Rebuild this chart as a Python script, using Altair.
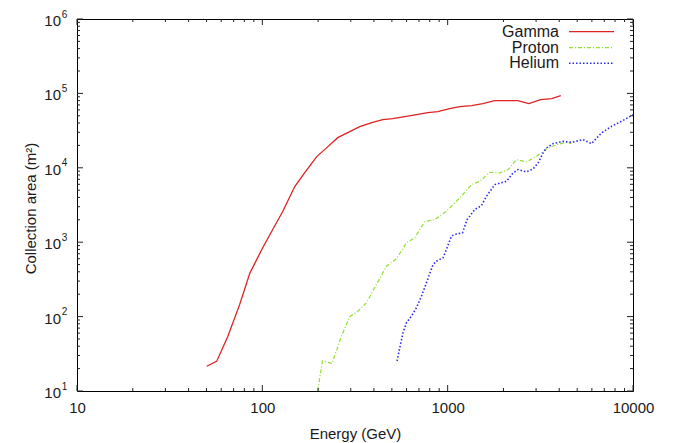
import altair as alt
import pandas as pd

# ---------------- data ----------------
gamma_E = [50.1, 56.7, 65.1, 75.5, 85.5, 99.3, 113.8, 128.8, 149.6, 169.4, 196.6,
           222.7, 255.3, 296.3, 335.5, 389.4, 446.4, 505.4, 586.8, 681, 781, 884,
           1026, 1163, 1349, 1547, 1796, 2084, 2389, 2740, 3180, 3646, 4077]
gamma_A = [21.5, 25.0, 54.2, 146, 380, 798, 1480, 2583, 5595, 8620, 14130,
           18670, 25420, 30620, 35730, 40430, 44360, 45730, 48660, 51760, 55080, 56770,
           62330, 66300, 68390, 72770, 79820, 79820, 79820, 72770, 82250, 84830, 93100]

proton_E = [199, 211, 237.8, 267.3, 296.3, 328.6, 364.6, 412.8, 467.6, 529.3, 599.3,
            664.4, 752.2, 851.8, 985, 1163, 1344, 1490, 1687, 1911, 2118, 2351,
            2663, 3015, 3414, 3866, 4376, 4657]
proton_A = [10, 25.3, 23.5, 54.7, 99.7, 118.5, 153.7, 270.5, 476, 598.5, 982,
            1146, 1897, 2017, 2608, 3945, 5950, 6590, 8700, 8540, 9460, 12880,
            12000, 14270, 17940, 20470, 21990, 21130]

helium_E = [533.3, 551.5, 574.6, 599.3, 637.7, 678.6, 722.2, 768.4, 834, 870.1, 944.5,
            985, 1048, 1092, 1202, 1273, 1316, 1401, 1522, 1620, 1796, 2077, 2254,
            2399, 2663, 2891, 3076, 3272, 3414, 3706, 4196, 4657, 5379, 5970, 6761,
            7656, 8845, 10000]
helium_A = [25.3, 38.2, 60.8, 82.8, 101.6, 131.7, 188.4, 285, 502, 556, 617.5,
            798, 1204, 1269, 1337, 2017, 2234, 2748, 3109, 4144, 5950, 6590, 8540,
            9460, 8810, 9670, 11640, 15850, 18490, 21130, 22690, 21990, 23900, 21130, 29410,
            36060, 43420, 51760]

series_names = ["Gamma", "Proton", "Helium"]
series_colors = ["#dd2222", "#8fe030", "#2a2aee"]

x_major = [10, 100, 1000, 10000]
x_minor = [m * d for d in [10, 100, 1000] for m in range(2, 10)]
y_major = [10, 100, 1000, 10000, 100000, 1000000]
y_exponent = ["1", "2", "3", "4", "5", "6"]
y_minor = [m * d for d in [10, 100, 1000, 10000, 100000] for m in range(2, 10)]

# ---------------- layout ----------------
W, H = 556, 372
FONT = "Liberation Sans"
TXT = "#1a1a1a"
MAJ, MIN = 6, 3

xscale = alt.Scale(type="log", domain=[10, 10000], nice=False)
yscale = alt.Scale(type="log", domain=[10, 1000000], nice=False)

xaxis = alt.Axis(values=x_major, format="d", ticks=False, tickSize=0, domain=False,
                 grid=False, labelFontSize=15, labelFont=FONT, labelColor=TXT,
                 labelPadding=21, labelFlush=False, labelOverlap=False,
                 labelBaseline="alphabetic",
                 title="Energy (GeV)", titleFont=FONT, titleFontSize=15,
                 titleFontWeight="normal", titleColor=TXT, titleY=47,
                 titleBaseline="alphabetic")
yaxis = alt.Axis(labels=False, ticks=False, tickSize=0, domain=False, grid=False,
                 title="Collection area (m²)", titleFont=FONT, titleFontSize=15,
                 titleFontWeight="normal", titleColor=TXT, titleAngle=270,
                 titleX=-42, titleY=189, titleAlign="center",
                 titleBaseline="alphabetic")


def X():
    return alt.X("E:Q", scale=xscale, axis=xaxis)


def Y():
    return alt.Y("A:Q", scale=yscale, axis=yaxis)


layers = []

# curves
dash = {"Gamma": None, "Proton": [4, 2, 1, 2], "Helium": [1.5, 2]}
widths = {"Gamma": 1.3, "Proton": 1.2, "Helium": 1.6}
for name, color, E, A in zip(series_names, series_colors,
                             [gamma_E, proton_E, helium_E],
                             [gamma_A, proton_A, helium_A]):
    df = pd.DataFrame({"E": E, "A": A})
    kw = dict(color=color, strokeWidth=widths[name], clip=True)
    if dash[name]:
        kw["strokeDash"] = dash[name]
    layers.append(alt.Chart(df).mark_line(**kw).encode(x=X(), y=Y()))

# inward ticks on all four sides
for vals, ln in [(x_major, MAJ), (x_minor, MIN)]:
    df = pd.DataFrame({"E": vals})
    layers.append(alt.Chart(df).mark_rule(color="#222", strokeWidth=1).encode(
        x=X(), y=alt.value(H), y2=alt.value(H - ln)))
    layers.append(alt.Chart(df).mark_rule(color="#222", strokeWidth=1).encode(
        x=X(), y=alt.value(0), y2=alt.value(ln)))
for vals, ln in [(y_major, MAJ), (y_minor, MIN)]:
    df = pd.DataFrame({"A": vals})
    layers.append(alt.Chart(df).mark_rule(color="#222", strokeWidth=1).encode(
        y=Y(), x=alt.value(0), x2=alt.value(ln)))
    layers.append(alt.Chart(df).mark_rule(color="#222", strokeWidth=1).encode(
        y=Y(), x=alt.value(W), x2=alt.value(W - ln)))

# y tick labels: 10 with superscript exponent
ylab = pd.DataFrame({"A": y_major, "base": ["10"] * len(y_major), "exp": y_exponent})
layers.append(alt.Chart(ylab).mark_text(align="right", baseline="middle", fontSize=15,
                                        font=FONT, color=TXT, dy=2).encode(
    y=Y(), x=alt.value(-16), text="base:N"))
layers.append(alt.Chart(ylab).mark_text(align="left", baseline="middle", fontSize=10,
                                        font=FONT, color=TXT, dy=-4.5).encode(
    y=Y(), x=alt.value(-15.3), text="exp:N"))

# legend (text left of sample line, top right inside)
leg_y = [12.7, 28.7, 44.3]
for name, color, yy in zip(series_names, series_colors, leg_y):
    ldf = pd.DataFrame({"name": [name]})
    layers.append(alt.Chart(ldf).mark_text(align="right", baseline="middle", fontSize=16,
                                           font=FONT, color=TXT).encode(
        x=alt.value(482), y=alt.value(yy), text="name:N"))
    kw = dict(color=color, strokeWidth=widths[name])
    if dash[name]:
        kw["strokeDash"] = dash[name]
    layers.append(alt.Chart(ldf).mark_rule(**kw).encode(
        x=alt.value(492), x2=alt.value(537), y=alt.value(yy)))

chart = alt.layer(*layers).properties(
    width=W, height=H,
    autosize=alt.AutoSizeParams(type="none"),
    padding={"left": 77, "top": 19, "right": 48, "bottom": 52},
    background="white",
).configure_view(stroke="black", strokeWidth=1)

chart.save("out.html", embed_options={"renderer": "svg", "actions": False})
